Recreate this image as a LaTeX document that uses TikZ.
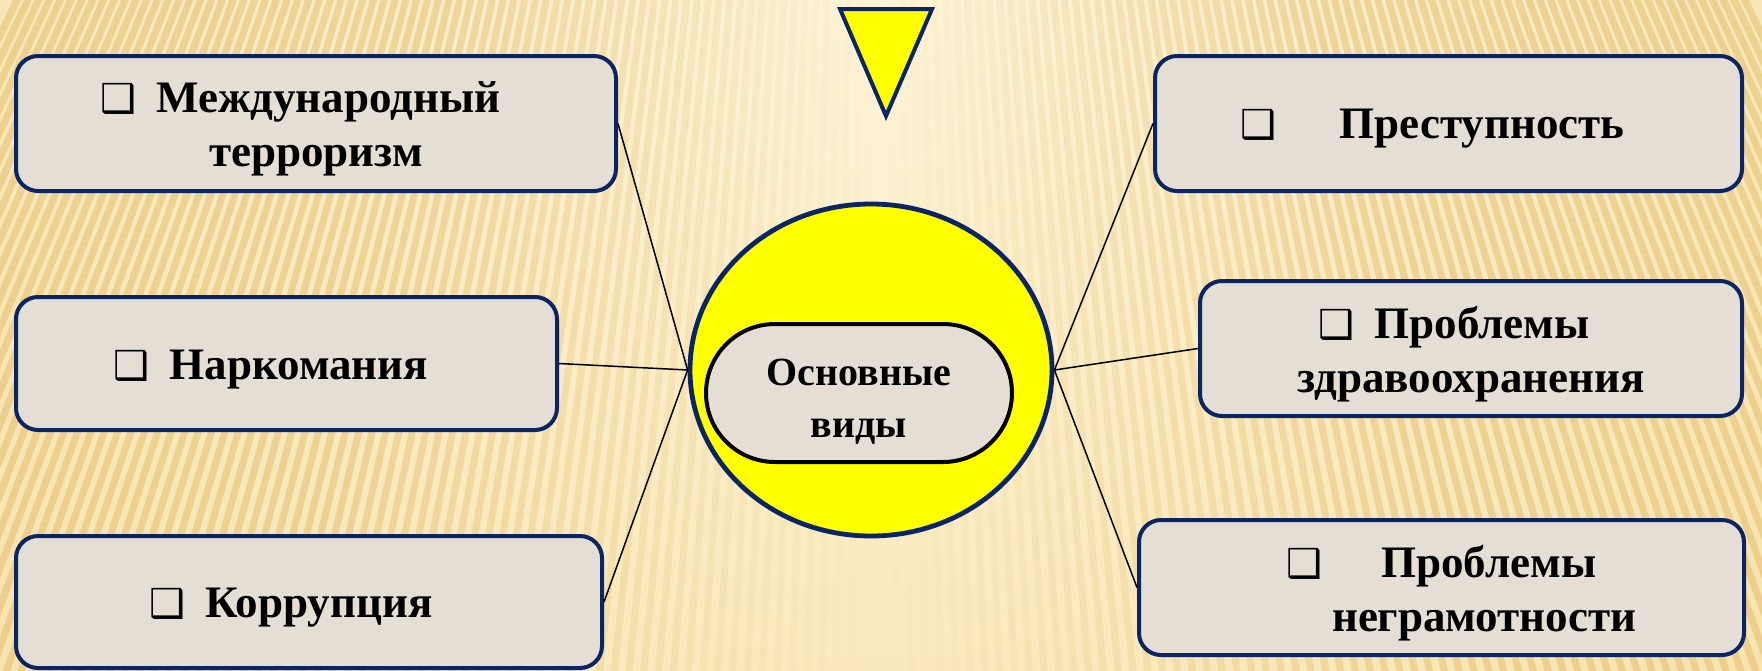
\documentclass[tikz,border=0pt]{standalone}
\usepackage{fontspec}
\setmainfont{Liberation Serif}
\newfontfamily\symfont{DejaVu Sans}
\usetikzlibrary{shapes.geometric,shapes.misc}
\definecolor{navy}{HTML}{0B2466}
\definecolor{boxfill}{HTML}{E4DED4}
\definecolor{bgA}{HTML}{FDF4D8}
\definecolor{bgB}{HTML}{F6DEA0}
\definecolor{stripecol}{HTML}{DDB055}
\definecolor{sunyellow}{HTML}{FFFF00}
\newcommand\bul{{\symfont\fontsize{20}{20}\selectfont ❑}}
\newcommand\gap{\hspace{0.45em}}
\tikzset{
  topic/.style={draw=navy, line width=2pt, fill=boxfill, rounded corners=11pt, inner sep=0pt},
  lab/.style={align=center, font=\bfseries\fontsize{22.5}{27}\selectfont, inner sep=0pt, yshift=-2.8pt},
  link/.style={draw=black, line width=0.75pt},
}
\begin{document}
\begin{tikzpicture}[x=0.5pt,y=-0.5pt]
\useasboundingbox (0,0) rectangle (1762,670);
% background
\begin{scope}
  \clip (0,0) rectangle (1762,670);
  \fill[bgB] (0,0) rectangle (1762,670);
  \shade[inner color=bgA, outer color=bgB] (881,-60) circle (1500);
  \foreach \i in {-80,...,80} {
    \pgfmathsetmacro\op{min(0.4,abs(\i)*0.01)}
    \draw[stripecol, line width=3.5pt, opacity=\op] (881,-1800) -- (881+\i*15,700);
  }
\end{scope}
% triangle
\coordinate (t1) at (840,9);
\coordinate (t2) at (932,9);
\coordinate (t3) at (886,116);
\draw[navy, line width=2pt, fill=sunyellow, line join=miter] (t1) -- (t2) -- (t3) -- cycle;
% boxes
\node[topic, minimum width=300pt, minimum height=67.5pt,
  label={[lab]center:\bul\gap Международный\hspace*{0.7em}\\терроризм}] (b1) at (316,123.5) {};
\node[topic, minimum width=270.5pt, minimum height=66.5pt,
  label={[lab]center:\bul\gap Наркомания\hspace*{0.7em}}] (b2) at (286.5,363.5) {};
\node[topic, minimum width=293pt, minimum height=66pt,
  label={[lab]center:\bul\gap Коррупция\hspace*{0.8em}}] (b3) at (309,602) {};
\node[topic, minimum width=293.5pt, minimum height=67.5pt,
  label={[lab]center:\bul\hspace{1.4em}Преступность\hspace*{0.7em}}] (b4) at (1448.5,123.5) {};
\node[topic, minimum width=271pt, minimum height=67.5pt,
  label={[lab]center:\bul\gap Проблемы\hspace*{0.75em}\\здравоохранения}] (b5) at (1471,348.5) {};
\node[topic, minimum width=302.5pt, minimum height=67.5pt,
  label={[lab]center:\bul\hspace{1.3em}Проблемы\\\hspace*{1.9em}неграмотности}] (b6) at (1441.5,587.5) {};
% centre
\node[ellipse, draw=navy, line width=2.4pt, fill=sunyellow, minimum width=181pt,
  minimum height=166pt, inner sep=0pt] (c) at (871,370) {};
\node[rounded rectangle, draw=black, line width=2pt, fill=boxfill, minimum width=153pt,
  minimum height=69pt, inner sep=0pt,
  label={[lab, yshift=-1.5pt, font=\bfseries\fontsize{20}{26}\selectfont]center:Основные\\виды}] (s) at (859,393) {};
% connectors
\draw[link] (c.west) -- (b1.east);
\draw[link] (c.west) -- (b2.east);
\draw[link] (c.west) -- (b3.east);
\draw[link] (c.east) -- (b4.west);
\draw[link] (c.east) -- (b5.west);
\draw[link] (c.east) -- (b6.west);
\end{tikzpicture}
\end{document}
